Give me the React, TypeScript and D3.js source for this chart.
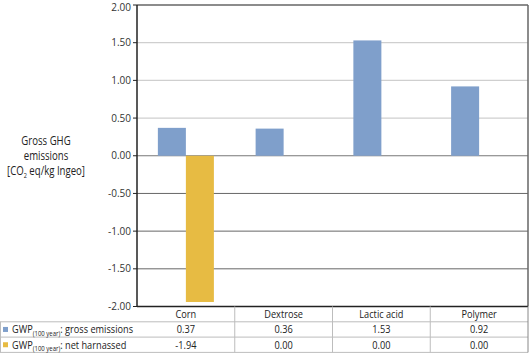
import React from "react";
import * as d3 from "d3";

const categories = ["Corn", "Dextrose", "Lactic acid", "Polymer"];
const grossEmissions = [0.37, 0.36, 1.53, 0.92];
const netHarnassed = [-1.94, 0.0, 0.0, 0.0];
const yTicks = [2, 1.5, 1, 0.5, 0, -0.5, -1, -1.5, -2];
const seriesNames = ["gross emissions", "net harnassed"];
const seriesColors = ["#7f9fcb", "#e7bb43"];

const W = 530;
const H = 355;
const L = 137;
const R = 528;
const T = 5;
const B = 306.5;
const ROW = 15.3;
const FONT = "'Open Sans', 'DejaVu Sans', sans-serif";
const SX = 0.8;

function CText({
  x,
  y,
  anchor = "start",
  size = 11,
  children,
}: {
  x: number;
  y: number;
  anchor?: string;
  size?: number;
  children: React.ReactNode;
}) {
  return (
    <g transform={`translate(${x},${y}) scale(${SX},1)`}>
      <text x={0} y={0} dy="0.35em" textAnchor={anchor} fontSize={size} fill="#222">
        {children}
      </text>
    </g>
  );
}

export default function App() {
  const x0 = d3.scaleBand<string>().domain(categories).range([L, R]).padding(0);
  const x1 = d3
    .scaleBand<string>()
    .domain(["g", "n"])
    .range([0, x0.bandwidth()])
    .paddingInner(0)
    .paddingOuter(0.745);
  const y = d3.scaleLinear().domain([-2, 2]).range([B, T]);
  const fmt = d3
    .formatLocale({ decimal: ".", thousands: ",", grouping: [3], currency: ["", ""], minus: "-" })
    .format(".2f");
  const series = [grossEmissions, netHarnassed];
  const rowY = [B, B + ROW, B + 2 * ROW, B + 3 * ROW];
  const cx = (c: string) => (x0(c) as number) + x0.bandwidth() / 2;

  return (
    <svg
      width={W}
      height={H}
      style={{ position: "absolute", left: 0, top: 0, background: "#fff" }}
      fontFamily={FONT}
    >
      {/* gridlines */}
      {yTicks.map((t) =>
        t === 2 || t === -2 ? null : (
          <line
            key={"g" + t}
            x1={L}
            x2={R}
            y1={y(t)}
            y2={y(t)}
            stroke={t > 0 ? "#cfcfcf" : t === 0 ? "#777" : "#666"}
            strokeWidth={t > 0 ? 1.2 : 1}
          />
        )
      )}
      {/* bars */}
      {categories.map((c, i) =>
        series.map((s, k) => {
          const v = s[i];
          const yy = Math.min(y(v), y(0));
          const hh = Math.abs(y(v) - y(0));
          return (
            <rect
              key={c + k}
              x={(x0(c) as number) + (x1(k === 0 ? "g" : "n") as number)}
              y={yy}
              width={x1.bandwidth()}
              height={hh}
              fill={seriesColors[k]}
            />
          );
        })
      )}
      {/* plot frame */}
      <line x1={L} x2={R} y1={T} y2={T} stroke="#666" strokeWidth={1.5} />
      <line x1={R} x2={R} y1={T} y2={B} stroke="#666" strokeWidth={1.5} />
      <line x1={L} x2={L} y1={T} y2={B} stroke="#222" strokeWidth={1.5} />
      <line x1={L} x2={R} y1={B} y2={B} stroke="#222" strokeWidth={1.5} />
      {/* y ticks and labels */}
      {yTicks.map((t) => (
        <g key={"t" + t}>
          <line x1={L - 4} x2={L} y1={y(t)} y2={y(t)} stroke="#222" strokeWidth={1} />
          <text
            x={L - 6}
            y={Math.max(y(t), 7.5)}
            dy="0.35em"
            textAnchor="end"
            fontSize={10}
            fill="#333"
          >
            {fmt(t)}
          </text>
        </g>
      ))}
      {/* y axis title */}
      <CText x={46} y={141} anchor="middle" size={12}>Gross GHG</CText>
      <CText x={46} y={156} anchor="middle" size={12}>emissions</CText>
      <CText x={46} y={171} anchor="middle" size={12}>
        [CO
        <tspan fontSize={7} dy={3}>2</tspan>
        <tspan dy={-3}> eq/kg Ingeo]</tspan>
      </CText>
      {/* table lines */}
      {[rowY[1], rowY[2], rowY[3]].map((yy, i) => (
        <line key={"h" + i} x1={0} x2={R} y1={yy} y2={yy} stroke="#bdbdbd" strokeWidth={1} />
      ))}
      <line x1={0.5} x2={0.5} y1={rowY[1]} y2={rowY[3]} stroke="#bdbdbd" strokeWidth={1} />
      {categories.map((c, i) => (
        <line
          key={"v" + c}
          x1={(x0(c) as number) + x0.bandwidth()}
          x2={(x0(c) as number) + x0.bandwidth()}
          y1={B}
          y2={rowY[3]}
          stroke={i === categories.length - 1 ? "#888" : "#bdbdbd"}
          strokeWidth={1}
        />
      ))}
      {/* category header */}
      {categories.map((c) => (
        <CText key={"c" + c} x={cx(c)} y={(rowY[0] + rowY[1]) / 2} anchor="middle" size={11.5}>
          {c}
        </CText>
      ))}
      {/* data rows */}
      {series.map((s, k) => (
        <g key={"r" + k}>
          <rect x={3} y={(rowY[k + 1] + rowY[k + 2]) / 2 - 2.5} width={5} height={5} fill={seriesColors[k]} />
          <CText x={12} y={(rowY[k + 1] + rowY[k + 2]) / 2} size={11.5}>
            GWP
            <tspan fontSize={7.5} dy={2.5}>(100 year)</tspan>
            <tspan dy={-2.5}>: {seriesNames[k]}</tspan>
          </CText>
          {categories.map((c, i) => (
            <CText key={c} x={cx(c)} y={(rowY[k + 1] + rowY[k + 2]) / 2} anchor="middle" size={11.5}>
              {fmt(s[i])}
            </CText>
          ))}
        </g>
      ))}
    </svg>
  );
}
